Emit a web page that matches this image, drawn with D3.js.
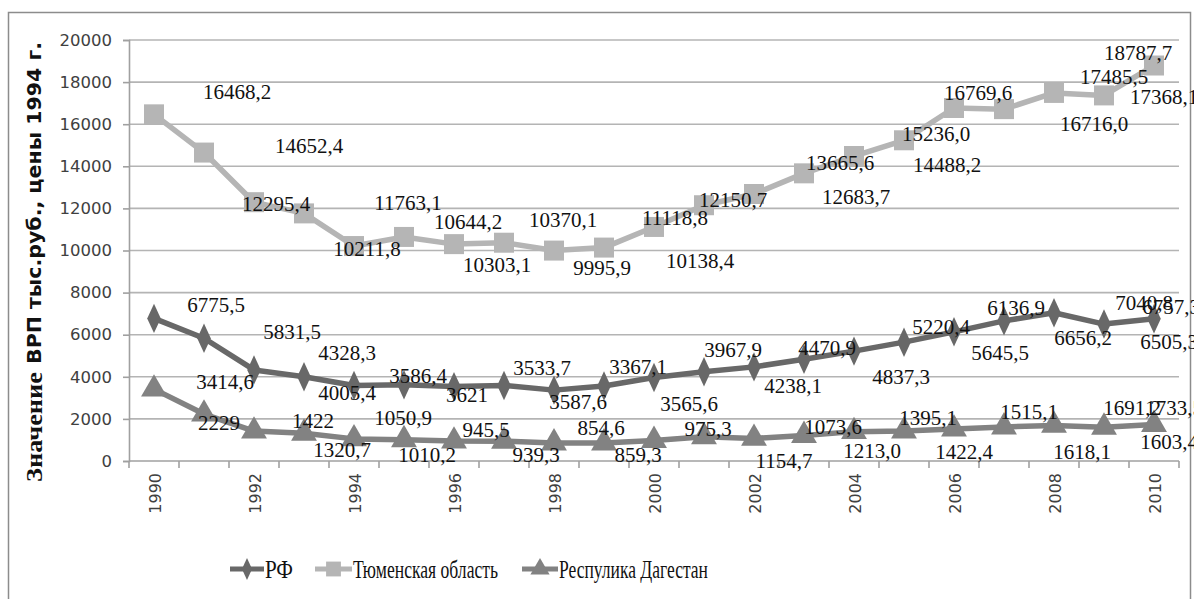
<!DOCTYPE html>
<html><head><meta charset="utf-8">
<script src="https://cdn.jsdelivr.net/npm/d3@7"></script>
<style>body{margin:0;background:#fff}svg{display:block}</style>
</head><body><svg id="c" width="1194" height="599"></svg>
<script>
const years = ["1990","1991","1992","1993","1994","1995","1996","1997","1998","1999","2000","2001","2002","2003","2004","2005","2006","2007","2008","2009","2010"];
const yTicks = [0,2000,4000,6000,8000,10000,12000,14000,16000,18000,20000];
const seriesNames = ["РФ","Тюменская область","Республика Дагестан"];
const legendNames = ["РФ","Тюменская область","Респулика Дагестан"];
const rfValues = [6775.5,5831.5,4328.3,4005.4,3586.4,3621,3533.7,3587.6,3367.1,3565.6,3967.9,4238.1,4470.9,4837.3,5220.4,5645.5,6136.9,6656.2,7040.8,6505.3,6757.3];
const tyumenValues = [16468.2,14652.4,12295.4,11763.1,10211.8,10644.2,10303.1,10370.1,9995.9,10138.4,11118.8,12150.7,12683.7,13665.6,14488.2,15236.0,16769.6,16716.0,17485.5,17368.1,18787.7];
const dagestanValues = [3414.6,2229,1422,1320.7,1050.9,1010.2,945.5,939.3,854.6,859.3,975.3,1154.7,1073.6,1213.0,1395.1,1422.4,1515.1,1618.1,1691.2,1603.4,1733.5];
const rfLabels = ["6775,5","5831,5","4328,3","4005,4","3586,4","3621","3533,7","3587,6","3367,1","3565,6","3967,9","4238,1","4470,9","4837,3","5220,4","5645,5","6136,9","6656,2","7040,8","6505,3","6757,3"];
const tyumenLabels = ["16468,2","14652,4","12295,4","11763,1","10211,8","10644,2","10303,1","10370,1","9995,9","10138,4","11118,8","12150,7","12683,7","13665,6","14488,2","15236,0","16769,6","16716,0","17485,5","17368,1","18787,7"];
const dagestanLabels = ["3414,6","2229","1422","1320,7","1050,9","1010,2","945,5","939,3","854,6","859,3","975,3","1154,7","1073,6","1213,0","1395,1","1422,4","1515,1","1618,1","1691,2","1603,4","1733,5"];

// label layout offsets (pixels, relative to the point)
const rfLabelOff = [[62,-13],[88,-6],[93,-17],[43,16],[64,-10],[63,10],[88,-19],[74,17],[84,-23],[85,18],[79,-27],[89,14],[73,-19],[97,18],[87,-24],[96,11],[62,-24],[79,17],[90,-10],[65,18],[17,-12]];
const tyumenLabelOff = [[83,-22],[105,-7],[22,2],[104,-10],[13,3],[64,-15],[43,21],[59,-23],[48,17],[96,13],[21,-9],[29,-5],[102,3],[36,-10],[93,9],[32,-6],[24,-15],[90,15],[60,-16],[60,2],[-16,-13]];
const dagestanLabelOff = [[71,-7],[15,9],[59,-10],[38,17],[49,-21],[23,15],[32,-11],[32,14],[47,-15],[34,12],[54,-11],[80,24],[79,-11],[68,16],[74,-14],[60,21],[75,-17],[78,25],[78,-17],[65,15],[20,-17]];

const svg = d3.select("#c");
const m = {l:129, r:1179, t:40, b:461};
const x = d3.scaleBand().domain(years).range([m.l, m.r]).padding(0);
const y = d3.scaleLinear().domain([0,20000]).range([m.b, m.t]);
const cx = d => x(d) + x.bandwidth()/2;

// outer border
svg.append("rect").attr("x",8.5).attr("y",12.5).attr("width",1182).attr("height",600)
  .attr("fill","#fff").attr("stroke","#8c8c8c").attr("stroke-width",1.5);

// gridlines
svg.append("g").selectAll("line").data(yTicks.filter(t=>t>0)).join("line")
  .attr("x1",m.l).attr("x2",m.r).attr("y1",d=>y(d)).attr("y2",d=>y(d))
  .attr("stroke","#b4b4b4").attr("stroke-width",1.6);

// y axis
const yAxis = d3.axisLeft(y).tickValues(yTicks).tickSize(6).tickPadding(11).tickFormat(d=>String(d));
const gy = svg.append("g").attr("transform",`translate(${m.l},0)`).call(yAxis);
gy.select(".domain").attr("stroke","#a0a0a0").attr("stroke-width",1.6);
gy.selectAll(".tick line").attr("stroke","#a0a0a0").attr("stroke-width",1.6);
gy.selectAll("text").attr("font-family","DejaVu Sans").attr("font-size",16.5).attr("fill","#404040");

// x axis
const gx = svg.append("g").attr("transform",`translate(0,${m.b})`);
gx.append("line").attr("x1",m.l).attr("x2",m.r).attr("stroke","#a0a0a0").attr("stroke-width",1.6);
const bounds = years.map(d=>x(d)).concat([m.r]);
gx.selectAll("line.tk").data(bounds).join("line").attr("class","tk")
  .attr("x1",d=>d).attr("x2",d=>d).attr("y1",0).attr("y2",7).attr("stroke","#a0a0a0").attr("stroke-width",1.6);
gx.selectAll("text").data(years.filter((d,i)=>i%2===0)).join("text")
  .attr("transform",d=>`translate(${cx(d)+1},12) rotate(-90)`)
  .attr("text-anchor","end").attr("dominant-baseline","central")
  .attr("font-family","DejaVu Sans").attr("font-size",16).attr("fill","#404040").text(d=>d);

// y title (two parts, rotated)
svg.append("text").attr("transform","translate(34,482) rotate(-90)")
  .attr("dominant-baseline","central").attr("fill","#111")
  .attr("font-family","Liberation Serif").attr("font-weight","bold").attr("font-size",23)
  .attr("textLength",110).attr("lengthAdjust","spacingAndGlyphs").text("Значение");
svg.append("text").attr("transform","translate(34,364) rotate(-90)")
  .attr("dominant-baseline","central").attr("fill","#111")
  .attr("font-family","DejaVu Sans").attr("font-weight","bold").attr("font-size",19.5)
  .attr("textLength",322).attr("lengthAdjust","spacingAndGlyphs").text("ВРП тыс.руб., цены 1994 г.");

const series = [
  {name:seriesNames[0], values:rfValues, labels:rfLabels, off:rfLabelOff, color:"#686868", shape:d3.symbolDiamond, size:250, sx:0.8},
  {name:seriesNames[1], values:tyumenValues, labels:tyumenLabels, off:tyumenLabelOff, color:"#b5b5b5", shape:d3.symbolSquare, size:400, sx:1},
  {name:seriesNames[2], values:dagestanValues, labels:dagestanLabels, off:dagestanLabelOff, color:"#828282", shape:d3.symbolTriangle, size:290, sx:1}
];

const line = d3.line().x((d,i)=>cx(years[i])).y(d=>y(d));
series.forEach(s=>{
  svg.append("path").datum(s.values).attr("d",line).attr("fill","none")
    .attr("stroke",s.color).attr("stroke-width",5.5).attr("stroke-linejoin","round");
  svg.append("g").selectAll("path").data(s.values).join("path")
    .attr("d",d3.symbol().type(s.shape).size(s.size))
    .attr("transform",(d,i)=>`translate(${cx(years[i])},${y(d)}) scale(${s.sx},1)`)
    .attr("fill",s.color);
});
series.forEach(s=>{
  svg.append("g").selectAll("text").data(s.values).join("text")
    .attr("x",(d,i)=>cx(years[i])+s.off[i][0]).attr("y",(d,i)=>y(d)+s.off[i][1])
    .attr("text-anchor","middle").attr("dominant-baseline","central")
    .attr("font-family","Liberation Serif").attr("font-size",21).attr("fill","#111")
    .text((d,i)=>s.labels[i]);
});

// legend
const legX = [230, 315, 522];
const legW = [34, 37, 36];
const legTL = [28, 145, 149];
const ly = 569;
series.forEach((s,i)=>{
  const g = svg.append("g");
  g.append("line").attr("x1",legX[i]).attr("x2",legX[i]+legW[i]).attr("y1",ly).attr("y2",ly)
    .attr("stroke",s.color).attr("stroke-width",5);
  g.append("path").attr("d",d3.symbol().type(s.shape).size(s.size*0.55))
    .attr("transform",`translate(${legX[i]+legW[i]/2},${ly}) scale(${s.sx},1)`).attr("fill",s.color);
  g.append("text").attr("x",legX[i]+legW[i]+1).attr("y",ly).attr("dominant-baseline","central")
    .attr("font-family","Liberation Serif").attr("font-size",26).attr("fill","#111")
    .attr("textLength",legTL[i]).attr("lengthAdjust","spacingAndGlyphs").text(legendNames[i]);
});
</script></body></html>
